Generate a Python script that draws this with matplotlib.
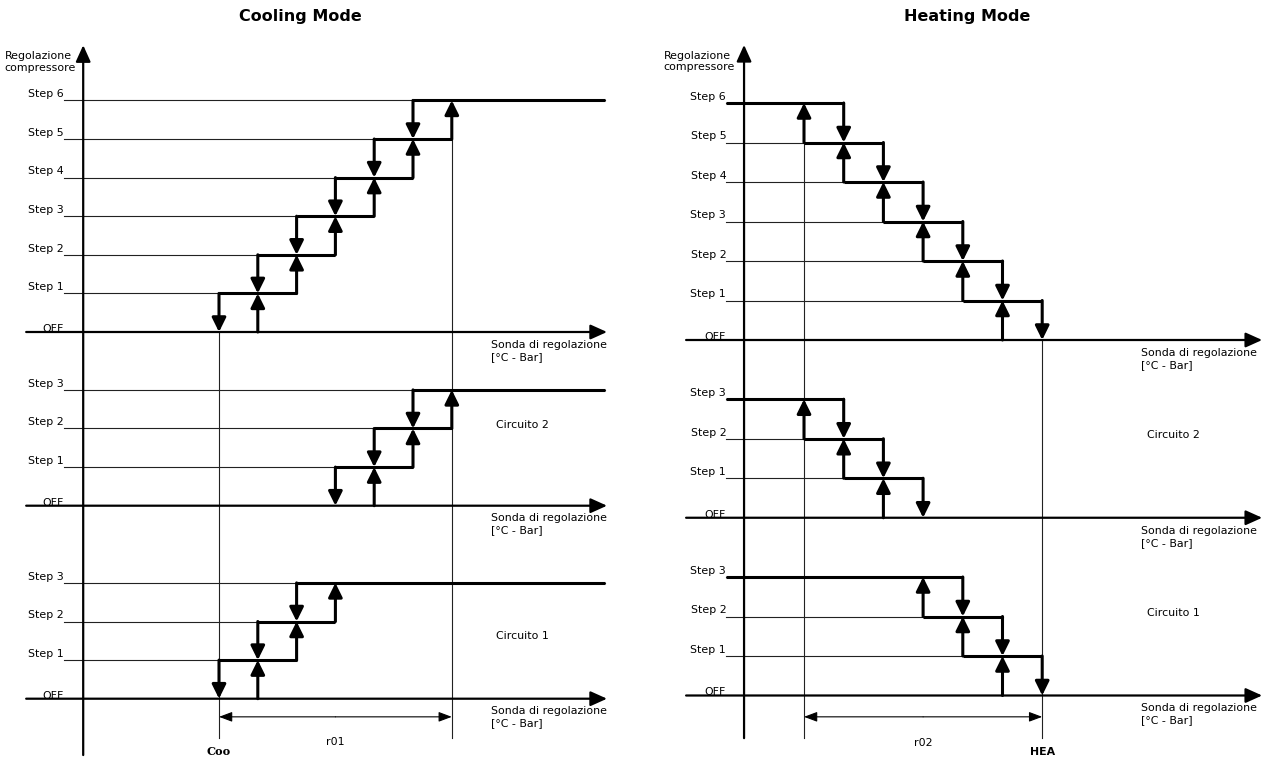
#!/usr/bin/env python3
"""
Compressor step regulation diagrams (cooling / heating mode),
main unit plus the two circuits, drawn with matplotlib.
"""

import matplotlib
matplotlib.use("Agg")
import matplotlib.pyplot as plt  # type: ignore

OUTFILE = "out.png"

LABELS_6 = ["OFF", "Step 1", "Step 2", "Step 3", "Step 4", "Step 5", "Step 6"]
LABELS_3 = ["OFF", "Step 1", "Step 2", "Step 3"]

# Switching thresholds of each step, in units of band/6
# cooling: 0 = Coo, 6 = Coo + r01 ; heating: 0 = HEA - r02, 6 = HEA
COOL_MAIN_ON = [1, 2, 3, 4, 5, 6]
COOL_MAIN_OFF = [0, 1, 2, 3, 4, 5]
COOL_C2_ON = [4, 5, 6]
COOL_C2_OFF = [3, 4, 5]
COOL_C1_ON = [1, 2, 3]
COOL_C1_OFF = [0, 1, 2]

HEAT_MAIN_ON = [5, 4, 3, 2, 1, 0]
HEAT_MAIN_OFF = [6, 5, 4, 3, 2, 1]
HEAT_C2_ON = [2, 1, 0]
HEAT_C2_OFF = [3, 2, 1]
HEAT_C1_ON = [5, 4, 3]
HEAT_C1_OFF = [6, 5, 4]

BAND = [0, 6]
COOL_BASES = [0, -4.5, -9.5]
HEAT_BASES = [0, -4.5, -9.0]

THICK = 2.2
THIN = 0.8
AXLW = 1.6
FS = 7.9


def arrow(ax, x0, y0, x1, y1, lw=THICK, hl=0.85, hw=0.42):
    ax.annotate("", xy=(x1, y1), xytext=(x0, y0),
                arrowprops=dict(arrowstyle=f"-|>,head_length={hl},head_width={hw}",
                                lw=lw, color="black", shrinkA=0, shrinkB=0))


def stairs(ax, base, on, off, labels, x_lab, x_end, rising):
    n = len(on)
    for k, lab in enumerate(labels):
        dy = -0.05 if k == 0 else 0.03  # OFF label sits on the axis line
        ax.text(x_lab, base + k + dy, lab, ha="right", va="bottom", fontsize=FS)
    for k in range(1, n + 1):
        y = base + k
        if k < n:
            nxt = on[k]
        else:
            nxt = x_end if rising else x_lab
        a, b = sorted((off[k - 1], nxt))
        ax.plot([x_lab, b], [y, y], color="#222222", lw=THIN, zorder=1)
        ax.plot([a, b], [y, y], color="black", lw=THICK, zorder=2, solid_capstyle="butt")
        # rising path switches the step on, falling path switches it off
        arrow(ax, on[k - 1], y - 1, on[k - 1], y)
        arrow(ax, off[k - 1], y, off[k - 1], y - 1)


def panel(ax, blocks, bases, g, rising):
    for (on, off, labels), base in zip(blocks, bases):
        arrow(ax, g["ax0"], base, g["ax1"], base, lw=AXLW, hl=1.0, hw=0.45)
        stairs(ax, base, on, off, labels, g["lab"], g["end"], rising)
        ax.text(g["txt"], base - 0.2, "Sonda di regolazione\n[°C - Bar]",
                ha="left", va="top", fontsize=FS, linespacing=1.25)
    # y axis
    arrow(ax, g["yx"], g["ybot"], g["yx"], g["ytop"], lw=AXLW, hl=1.0, hw=0.45)
    ax.text(g["yx"] - 2.02, g["ytop"] - 0.15, "Regolazione\ncompressore", ha="left", va="top",
            fontsize=FS, linespacing=1.2)
    # reference lines at the band limits
    for x, top in zip(BAND, g["reftop"]):
        ax.plot([x, x], [g["refbot"], top], color="#222222", lw=THIN, zorder=1)
    mid = (BAND[0] + BAND[1]) / 2
    arrow(ax, mid, g["dim"], BAND[0], g["dim"], lw=THIN, hl=0.8, hw=0.3)
    arrow(ax, mid, g["dim"], BAND[1], g["dim"], lw=THIN, hl=0.8, hw=0.3)
    ax.text(mid, g["dim"] - 0.65, g["band"], ha="center", va="center", fontsize=FS)
    ax.text(g["markx"], g["marky"], g["mark"], ha="center", va="center",
            fontsize=g["markfs"], fontweight="bold", family=g["markfont"])
    ax.text(g["txt"] + 0.15, bases[1] + g["circ"][0], "Circuito 2", ha="left", va="center",
            fontsize=FS)
    ax.text(g["txt"] + 0.15, bases[2] + g["circ"][1], "Circuito 1", ha="left", va="center",
            fontsize=FS)


def main():
    fig = plt.figure(figsize=(12.7, 7.58), dpi=100)

    # left half: 1 unit = 38.8 px horizontally, 38.6 px vertically
    axl = fig.add_axes([0, 0, 0.5, 1])
    axl.set_xlim(-219 / 38.8, (635 - 219) / 38.8)
    axl.set_ylim((332 - 758) / 38.6, 332 / 38.6)
    # right half: 1 unit = 39.7 px horizontally, 39.5 px vertically
    axr = fig.add_axes([0.5, 0, 0.5, 1])
    axr.set_xlim((635 - 804) / 39.7, (1270 - 804) / 39.7)
    axr.set_ylim((340 - 758) / 39.5, 340 / 39.5)
    for ax in (axl, axr):
        ax.axis("off")

    cool_blocks = [(COOL_MAIN_ON, COOL_MAIN_OFF, LABELS_6),
                   (COOL_C2_ON, COOL_C2_OFF, LABELS_3),
                   (COOL_C1_ON, COOL_C1_OFF, LABELS_3)]
    heat_blocks = [(HEAT_MAIN_ON, HEAT_MAIN_OFF, LABELS_6),
                   (HEAT_C2_ON, HEAT_C2_OFF, LABELS_3),
                   (HEAT_C1_ON, HEAT_C1_OFF, LABELS_3)]

    cool_geo = dict(ax0=-4.97, ax1=10.0, lab=-4.0, end=9.95, yx=-3.5, ytop=7.43, ybot=-10.96,
                    refbot=-10.52, reftop=[0, 5], dim=-9.97, txt=7.0, circ=(2.09, 1.62),
                    band="r01", mark="Coo", markx=BAND[0], marky=-10.88,
                    markfont="DejaVu Serif", markfs=8.2)
    heat_geo = dict(ax0=-2.97, ax1=11.54, lab=-1.96, end=11.4, yx=-1.51, ytop=7.47, ybot=-10.08,
                    refbot=-10.08, reftop=[5, 0], dim=-9.54, txt=8.5, circ=(2.09, 2.09),
                    band="r02", mark="HEA", markx=BAND[1], marky=-10.43,
                    markfont="DejaVu Sans", markfs=FS)

    panel(axl, cool_blocks, COOL_BASES, cool_geo, True)
    panel(axr, heat_blocks, HEAT_BASES, heat_geo, False)

    fig.text(300 / 1270, 1 - 17 / 758, "Cooling Mode", ha="center", va="center",
             fontsize=11.5, fontweight="bold")
    fig.text(967 / 1270, 1 - 17 / 758, "Heating Mode", ha="center", va="center",
             fontsize=11.5, fontweight="bold")

    fig.savefig(OUTFILE, dpi=100)
    plt.close(fig)


if __name__ == "__main__":
    main()
